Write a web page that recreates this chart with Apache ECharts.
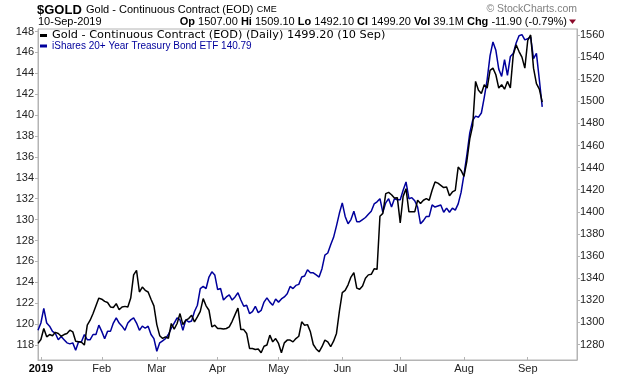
<!DOCTYPE html>
<html>
<head>
<meta charset="utf-8">
<script src="https://cdn.jsdelivr.net/npm/echarts@6/dist/echarts.min.js"></script>
<style>
html, body { margin: 0; padding: 0; background: #fff; }
#main { width: 620px; height: 376px; }
</style>
</head>
<body>
<div id="main"></div>
<script>
// x axis: month labels and the first trading day they sit on
var monthLabels = ['2019', 'Feb', 'Mar', 'Apr', 'May', 'Jun', 'Jul', 'Aug', 'Sep'];
var monthStarts = ['2019-01-02', '2019-02-01', '2019-03-01', '2019-04-01', '2019-05-01',
                   '2019-06-03', '2019-07-01', '2019-08-01', '2019-09-03'];
var holidays = ['2019-01-01', '2019-01-21', '2019-02-18', '2019-04-19', '2019-05-27',
                '2019-07-04', '2019-09-02'];
var firstDay = '2018-12-31', lastDay = '2019-09-10', padUntil = '2019-09-26';

// y axis tick labels
var tltTicks = [118, 120, 122, 124, 126, 128, 130, 132, 134, 136, 138, 140, 142, 144, 146, 148];
var goldTicks = [1280, 1300, 1320, 1340, 1360, 1380, 1400, 1420, 1440, 1460, 1480, 1500, 1520, 1540, 1560];

// $GOLD daily close (right axis), Dec 31 2018 .. Sep 10 2019
var goldJan = [1281, 1284.5, 1294.5, 1287, 1289, 1288, 1291, 1290, 1287.5, 1289, 1290, 1293, 1291.5,
               1283, 1282.5, 1282, 1279.5, 1297.5, 1302, 1308, 1315, 1322];
var goldFeb = [1321, 1319, 1318, 1314, 1313.5, 1317, 1311.5, 1314, 1314.5, 1314, 1322, 1343, 1347,
               1327.5, 1332, 1329, 1327.5, 1321, 1315];
var goldMar = [1298, 1288, 1285.5, 1287, 1285.5, 1299, 1294, 1299, 1308, 1298, 1302, 1303.5, 1306.5,
               1300.5, 1305, 1310, 1321.5, 1315, 1311, 1296, 1297.5];
var goldApr = [1294.5, 1294.5, 1294, 1294.5, 1296, 1301, 1307, 1313, 1293.5, 1293.5, 1290, 1276.5,
               1276.4, 1275.5, 1276, 1272.5, 1278.5, 1279.5, 1288.5, 1282.4, 1285.4];
var goldMay = [1281, 1272.5, 1281.5, 1284, 1284, 1282.4, 1285.4, 1287.5, 1300.5, 1297.5, 1298, 1291.5,
               1280, 1276, 1273.4, 1278, 1284, 1282.4, 1278, 1283, 1290, 1310];
var goldJun = [1327, 1329, 1334, 1341, 1345, 1331, 1330, 1333, 1340, 1343, 1343.5, 1348.5, 1348,
               1396, 1398.6, 1416.5, 1417.6, 1415.5, 1412.5, 1412.8];
var goldJul = [1390, 1414, 1421, 1400, 1400, 1400, 1410.5, 1407.5, 1410.5, 1412, 1410.5, 1419.5, 1427,
               1426, 1424, 1422, 1422.5, 1414.5, 1418, 1419.5, 1440.5, 1437.5];
var goldAug = [1432, 1446, 1466, 1478, 1518, 1510, 1507, 1515, 1512, 1528, 1530, 1524, 1512, 1515,
               1511, 1518, 1512, 1542, 1551, 1545, 1540, 1530];
var goldSep = [1555, 1560, 1530, 1516, 1511, 1499.2];

// TLT close (left axis)
var tltJan = [119.4, 120.1, 121.5, 120.1, 119.8, 119.3, 119.1, 118.5, 118.8, 118.5, 118.2, 118.1, 118.2,
              117.5, 118.3, 118.3, 119, 118.5, 118.5, 119, 119, 119.9];
var tltFeb = [119.3, 118.6, 119.3, 119.3, 120.1, 120.6, 120.1, 119.8, 119.4, 120.1, 120.4, 120.6, 120.1,
              119.4, 119.8, 119.6, 119.8, 119, 118.6];
var tltMar = [117.4, 118.2, 118.4, 118.6, 119, 119.6, 120.1, 120.6, 120.4, 119.4, 120.4, 120.2, 120.3,
              121.2, 121.8, 123.4, 123.6, 123.4, 124.5, 125, 124.7];
var tltApr = [123.3, 123.4, 122.3, 122.6, 122.8, 122.3, 122.6, 123, 122.3, 121.7, 121.8, 121, 121.2,
              121.7, 121.1, 121.3, 122.1, 122.5, 122.1, 121.8, 122.4];
var tltMay = [122.1, 122.4, 122.6, 122.9, 123.6, 123.4, 123.7, 123.8, 124.5, 124.6, 125.2, 124.9, 124.9,
              124.7, 124.5, 125.3, 126.6, 126.8, 127.6, 128.3, 129.4, 130.6];
var tltJun = [131.6, 130.3, 129.6, 130, 130.8, 129.8, 129.8, 130, 130.2, 130.5, 130.8, 131.5, 131.7,
              132, 130.7, 131.6, 132, 131.2, 132, 131.9];
var tltJul = [131.9, 132.8, 133.6, 132, 132.1, 131.8, 131.2, 129.6, 129.9, 130.3, 130.3, 131.4, 131.2,
              131.3, 131.4, 130.7, 131.1, 130.7, 131.1, 130.9, 131.5, 132.6];
var tltAug = [134.3, 136.2, 138.3, 139.5, 139.9, 139.8, 140.2, 141.7, 143.4, 145.7, 147, 146.2, 144.4,
              143.7, 145.3, 143.8, 145.6, 145.9, 146.9, 147.6, 147.7, 147.2];
var tltSep = [147.3, 147.5, 145.4, 145.9, 143.4, 140.79];

var gold = [].concat(goldJan, goldFeb, goldMar, goldApr, goldMay, goldJun, goldJul, goldAug, goldSep);
var tlt = [].concat(tltJan, tltFeb, tltMar, tltApr, tltMay, tltJun, tltJul, tltAug, tltSep);

// trading-day categories, with a few empty days of right margin after the last close
function tradingDays(from, to) {
    var out = [];
    var d = new Date(from + 'T00:00:00Z'), end = new Date(to + 'T00:00:00Z');
    while (d <= end) {
        var s = d.toISOString().slice(0, 10), wd = d.getUTCDay();
        if (wd !== 0 && wd !== 6 && holidays.indexOf(s) < 0) out.push(s);
        d.setUTCDate(d.getUTCDate() + 1);
    }
    return out;
}
var dates = tradingDays(firstDay, lastDay);
var padding = tradingDays('2019-09-11', padUntil);
var categories = dates.concat(padding);

function isMonthStart(idx) {
    return monthStarts.indexOf(categories[idx]) >= 0;
}

var frame = '#b4b4b4';
var sans = '"Liberation Sans", Arial, sans-serif';

var chart = echarts.init(document.getElementById('main'));
var option = {
    animation: false,
    textStyle: { fontFamily: sans },
    grid: {
        left: 38, right: 43, top: 29, bottom: 16,
        show: true, borderColor: frame, borderWidth: 1
    },
    legend: {
        left: 40, top: 30, orient: 'vertical', itemGap: 0, padding: 0,
        selectedMode: false, icon: 'rect', itemWidth: 7, itemHeight: 3,
        data: [
            { name: 'gold', textStyle: { fontFamily: '"DejaVu Sans", Verdana, sans-serif', fontSize: 11.3, color: '#000', lineHeight: 11 } },
            { name: 'tlt', textStyle: { fontFamily: sans, fontSize: 10, color: '#00009c', lineHeight: 10 } }
        ],
        formatter: function (name) {
            return name === 'gold'
                ? 'Gold - Continuous Contract (EOD) (Daily) 1499.20 (10 Sep)'
                : 'iShares 20+ Year Treasury Bond ETF 140.79';
        }
    },
    xAxis: {
        type: 'category',
        data: categories,
        boundaryGap: false,
        axisLine: { lineStyle: { color: frame } },
        axisTick: {
            inside: true, length: 3,
            interval: function (idx) { return isMonthStart(idx); },
            lineStyle: { color: frame }
        },
        axisLabel: {
            interval: function (idx) { return isMonthStart(idx); },
            hideOverlap: false,
            formatter: function (val) {
                var k = monthStarts.indexOf(val);
                if (k < 0) return '';
                return k === 0 ? '{b|' + monthLabels[k] + '}' : monthLabels[k];
            },
            margin: 3, color: '#222', fontSize: 11,
            rich: { b: { fontWeight: 'bold', fontSize: 11, color: '#000' } }
        },
        splitLine: { show: false }
    },
    yAxis: [
        {
            type: 'value', position: 'left', min: 116.56, max: 148.24,
            axisLine: { show: true, lineStyle: { color: frame } },
            axisTick: { show: true, length: 3, customValues: tltTicks, lineStyle: { color: frame } },
            axisLabel: { customValues: tltTicks, margin: 4, color: '#222', fontSize: 11 },
            splitLine: { show: false }
        },
        {
            type: 'value', position: 'right', min: 1266, max: 1565.4,
            axisLine: { show: true, lineStyle: { color: frame } },
            axisTick: { show: true, length: 3, customValues: goldTicks, lineStyle: { color: frame } },
            axisLabel: {
                customValues: goldTicks, margin: 3, color: '#222', fontSize: 11,
                formatter: function (v) { return String(v); }
            },
            splitLine: { show: false }
        }
    ],
    series: [
        {
            name: 'tlt', type: 'line', yAxisIndex: 0, data: tlt,
            showSymbol: false, symbol: 'none',
            itemStyle: { color: '#00009c' },
            lineStyle: { color: '#00009c', width: 1.5 }
        },
        {
            name: 'gold', type: 'line', yAxisIndex: 1, data: gold,
            showSymbol: false, symbol: 'none',
            itemStyle: { color: '#000' },
            lineStyle: { color: '#000', width: 1.5 }
        }
    ],
    graphic: [
        {
            type: 'text', x: 37, y: 10,
            style: { text: '$GOLD', font: 'bold 13px ' + sans, fill: '#000', verticalAlign: 'middle' }
        },
        {
            type: 'text', x: 86, y: 10,
            style: {
                text: '{a|Gold - Continuous Contract (EOD)} {c|CME}',
                verticalAlign: 'middle',
                rich: {
                    a: { font: '11px ' + sans, fill: '#000' },
                    c: { font: '9px ' + sans, fill: '#000' }
                }
            }
        },
        {
            type: 'text', x: 38, y: 22,
            style: { text: '10-Sep-2019', font: '11px ' + sans, fill: '#000', verticalAlign: 'middle' }
        },
        {
            type: 'text', x: 567, y: 22,
            style: {
                text: '{k|Op} 1507.00 {k|Hi} 1509.10 {k|Lo} 1492.10 {k|Cl} 1499.20 {k|Vol} 39.1M {k|Chg} -11.90 (-0.79%)',
                font: '11px ' + sans, fill: '#000', align: 'right', verticalAlign: 'middle',
                rich: { k: { font: 'bold 11px ' + sans, fill: '#000' } }
            }
        },
        {
            type: 'polygon',
            shape: { points: [[569, 19.5], [576, 19.5], [572.5, 24]] },
            style: { fill: '#8b0a2a' }
        },
        {
            type: 'text', x: 577, y: 9,
            style: { text: '\u00a9 StockCharts.com', font: '10.5px ' + sans, fill: '#808080', align: 'right', verticalAlign: 'middle' }
        }
    ]
};
chart.setOption(option);
</script>
</body>
</html>
